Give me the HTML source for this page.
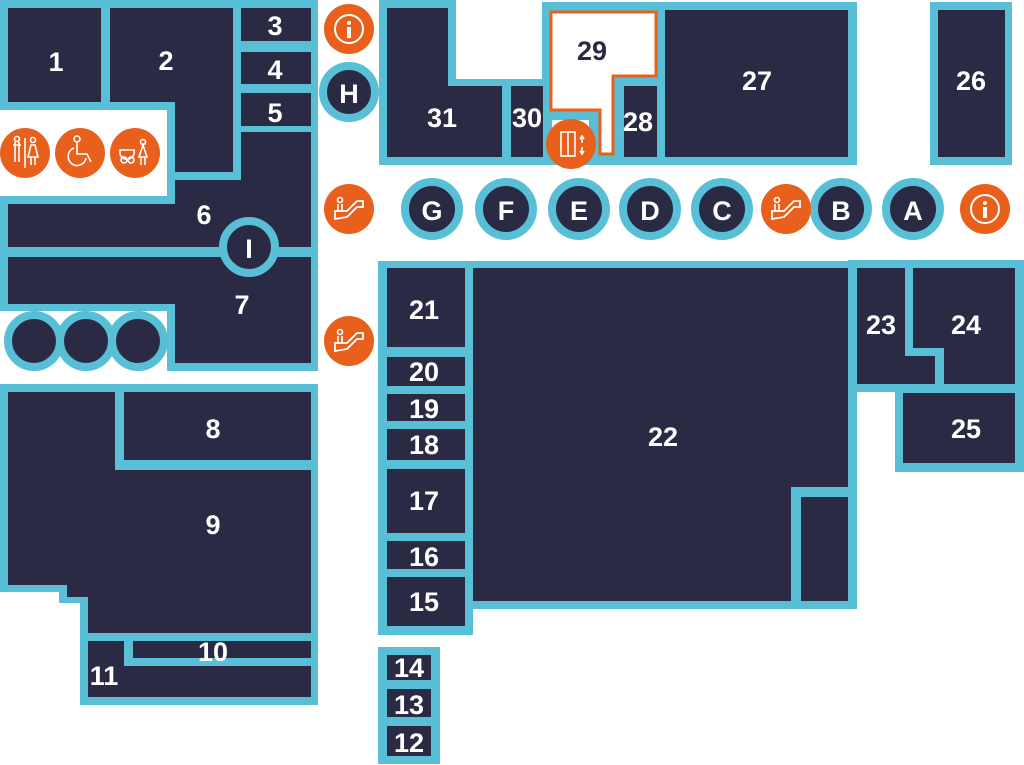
<!DOCTYPE html>
<html><head><meta charset="utf-8"><style>html,body{margin:0;padding:0;background:#fff}svg{display:block}</style></head>
<body>
<svg width="1024" height="765" viewBox="0 0 1024 765" xmlns="http://www.w3.org/2000/svg">
<defs>
<g id="esc"><path d="M-14,10 L-14,2 L-2,2 L8,-8 L14,-8 L14,-2 L8,-2 L-2,8 L-14,10 Z" fill="none" stroke="#fff" stroke-width="1.8"/><circle cx="-9" cy="-9" r="2.5" fill="none" stroke="#fff" stroke-width="1.6"/><path d="M-11,-5 v7 M-7,-5 v7" stroke="#fff" stroke-width="1.6"/></g>
<g id="info"><circle r="14" fill="none" stroke="#fff" stroke-width="2"/><circle cx="0" cy="-6" r="2" fill="#fff"/><rect x="-2" y="-2" width="4" height="11" fill="#fff"/></g>
</defs>
<g fill="#58BFD6">
<path d="M0,0 H318 V371 H167 V311 H0 V196 H167 V110 H0 Z"/>
<path d="M0,384 H318 V705 H80 V603 H59 V592 H0 Z"/>
<path d="M379,0 H456 V79 H542 V2 H857 V165 H379 Z"/>
<rect x="930" y="2" width="82" height="163"/>
<path d="M378,261 H857 V609 H473 V635 H378 Z"/>
<rect x="848" y="260" width="176" height="132"/>
<rect x="895" y="384" width="129" height="88"/>
<rect x="378" y="647" width="62" height="117"/>
</g>
<g fill="#2B2A45">
<rect x="8" y="8" width="93" height="94"/>
<path d="M110,8 H233 V172 H175 V102 H110 Z"/>
<rect x="241" y="8" width="70" height="33"/>
<rect x="241" y="52" width="70" height="32"/>
<rect x="241" y="93" width="70" height="33"/>
<path d="M241,132 H311 V247 H8 V204 H175 V180 H241 Z"/>
<path d="M8,257 H311 V363 H175 V304 H8 Z"/>
<path d="M8,392 H115 V470 H311 V633 H88 V597 H67 V585 H8 Z"/>
<rect x="124" y="392" width="187" height="68"/>
<rect x="133" y="641" width="178" height="17"/>
<path d="M88,641 H124 V666 H311 V697 H88 Z"/>
<path d="M387,8 H448 V86 H502 V157 H387 Z"/>
<rect x="511" y="86" width="32" height="71"/>
<rect x="624" y="86" width="33" height="71"/>
<rect x="665" y="10" width="183" height="147"/>
<rect x="938" y="10" width="67" height="147"/>
<rect x="387" y="268" width="78" height="79"/>
<rect x="387" y="357" width="78" height="29"/>
<rect x="387" y="394" width="78" height="27"/>
<rect x="387" y="429" width="78" height="31"/>
<rect x="387" y="469" width="78" height="64"/>
<rect x="387" y="541" width="78" height="28"/>
<rect x="387" y="577" width="78" height="49"/>
<path d="M473,268 H848 V487 H791 V601 H473 Z"/>
<rect x="801" y="497" width="47" height="104"/>
<path d="M857,268 H905 V356 H935 V384 H857 Z"/>
<path d="M913,268 H1015 V384 H944 V348 H913 Z"/>
<rect x="903" y="393" width="112" height="70"/>
<rect x="387" y="655" width="44" height="25"/>
<rect x="387" y="689" width="44" height="28"/>
<rect x="387" y="726" width="44" height="30"/>
</g>
<path d="M551,12 H656 V76 H613 V154 H600 V110 H551 Z" fill="#fff" stroke="#E8601C" stroke-width="3"/>
<rect x="552" y="120" width="37" height="12" fill="#fff"/>
<g fill="#2B2A45" stroke="#58BFD6" stroke-width="8">
<circle cx="249" cy="247" r="26"/>
<circle cx="34" cy="341" r="26"/><circle cx="86" cy="341" r="26"/><circle cx="138" cy="341" r="26"/>
<circle cx="349" cy="92" r="26"/>
<circle cx="432" cy="209" r="27"/><circle cx="506" cy="209" r="27"/><circle cx="579" cy="209" r="27"/><circle cx="650" cy="209" r="27"/><circle cx="722" cy="209" r="27"/><circle cx="841" cy="209" r="27"/><circle cx="913" cy="209" r="27"/>
</g>
<g fill="#E8601C">
<circle cx="349" cy="29" r="25"/><circle cx="349" cy="209" r="25"/><circle cx="349" cy="341" r="25"/>
<circle cx="25" cy="153" r="25"/><circle cx="80" cy="153" r="25"/><circle cx="135" cy="153" r="25"/>
<circle cx="571" cy="144" r="25"/><circle cx="786" cy="209" r="25"/><circle cx="985" cy="209" r="25"/>
</g>
<use href="#info" x="349" y="29"/><use href="#info" x="985" y="209"/>
<use href="#esc" x="349" y="209"/><use href="#esc" x="349" y="341"/><use href="#esc" x="786" y="209"/>
<g fill="none" stroke="#fff" stroke-width="1.6">
<path d="M15,142 v20 M19,142 v20 M13,145 h8 M25,138 v30 M31,145 l-3,12 h10 l-3,-12 z M31,157 v8 M35,157 v8"/><circle cx="17" cy="139" r="2.5"/><circle cx="33" cy="140" r="2.5"/>
<circle cx="77" cy="139" r="3"/><path d="M77,142 v12 h10 l4,8 M74,148 a9,9 0 1 0 12,10"/>
<circle cx="124" cy="160" r="3"/><circle cx="131" cy="160" r="3"/><path d="M120,150 h14 a6,6 0 0 1 -14,4 z"/><circle cx="143" cy="142" r="2.5"/><path d="M143,145 l-4,12 h8 z M141,157 v8 M145,157 v8"/>
<rect x="561" y="132" width="14" height="24"/><path d="M568,132 v24 M582,137 v6 M580,139 l2,-3 2,3 M582,147 v6 M580,151 l2,3 2,-3"/>
</g>
<g font-family="Liberation Sans, sans-serif" font-weight="bold" font-size="27" fill="#fff" text-anchor="middle" dominant-baseline="central">
<text x="56" y="62">1</text><text x="166" y="61">2</text><text x="275" y="26">3</text><text x="275" y="70">4</text><text x="275" y="113">5</text>
<text x="204" y="215">6</text><text x="242" y="305">7</text><text x="213" y="429">8</text><text x="213" y="525">9</text><text x="213" y="652">10</text><text x="104" y="676">11</text>
<text x="409" y="743">12</text><text x="409" y="705">13</text><text x="409" y="668">14</text><text x="424" y="602">15</text><text x="424" y="557">16</text><text x="424" y="501">17</text><text x="424" y="445">18</text><text x="424" y="409">19</text><text x="424" y="372">20</text><text x="424" y="310">21</text>
<text x="663" y="437">22</text><text x="881" y="325">23</text><text x="966" y="325">24</text><text x="966" y="429">25</text><text x="971" y="81">26</text><text x="757" y="81">27</text><text x="638" y="122">28</text><text x="592" y="51" fill="#2B2A45">29</text><text x="527" y="118">30</text><text x="442" y="118">31</text>
<text x="249" y="249">I</text><text x="349" y="94">H</text>
<text x="432" y="211">G</text><text x="506" y="211">F</text><text x="579" y="211">E</text><text x="650" y="211">D</text><text x="722" y="211">C</text><text x="841" y="211">B</text><text x="913" y="211">A</text>
</g>
</svg>
</body></html>
